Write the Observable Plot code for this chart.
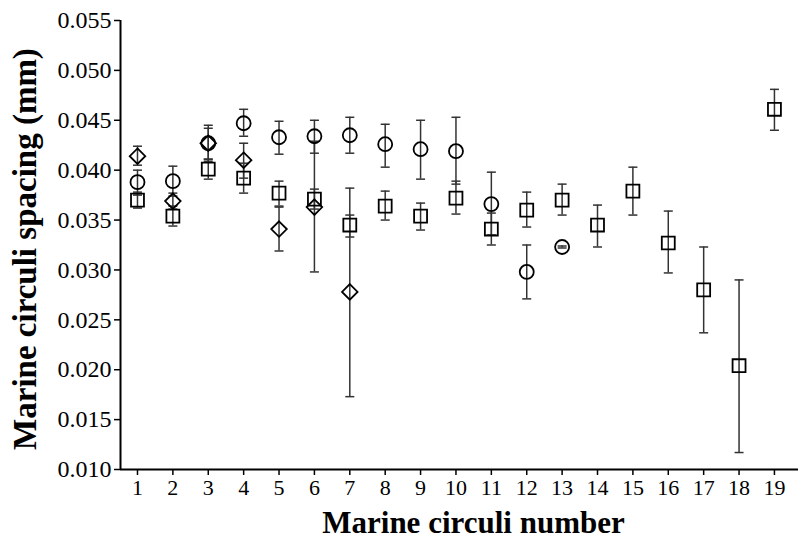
<!DOCTYPE html>
<html><head><meta charset="utf-8">
<script src="https://cdn.jsdelivr.net/npm/d3@7"></script>
<script src="https://cdn.jsdelivr.net/npm/@observablehq/plot@0.6"></script>
<style>body{margin:0;background:#fff} svg text{font-family:'Liberation Serif',serif}</style>
</head><body><div id="chart"></div>
<script>
// Circle series (circuli 1-13)
const circleX    = [1, 2, 3, 4, 5, 6, 7, 8, 9, 10, 11, 12, 13];
const circleMean = [0.0388, 0.0389, 0.0427, 0.0447, 0.0433, 0.0434, 0.0435, 0.0426, 0.0421, 0.0419, 0.0366, 0.0298, 0.0323];
const circleLo   = [0.0375, 0.0374, 0.0411, 0.0434, 0.0416, 0.0417, 0.0417, 0.0403, 0.0391, 0.0386, 0.0335, 0.0271, 0.0322];
const circleHi   = [0.0400, 0.0404, 0.0442, 0.0461, 0.0449, 0.0450, 0.0453, 0.0446, 0.0450, 0.0453, 0.0398, 0.0325, 0.0324];
// Diamond series (circuli 1-7)
const diamondX    = [1, 2, 3, 4, 5, 6, 7];
const diamondMean = [0.0414, 0.0369, 0.0427, 0.0410, 0.0341, 0.0363, 0.0278];
const diamondLo   = [0.0405, 0.0361, 0.0409, 0.0392, 0.0319, 0.0298, 0.0173];
const diamondHi   = [0.0424, 0.0377, 0.0445, 0.0427, 0.0363, 0.0429, 0.0382];
// Square series (circuli 1-19)
const squareX    = [1, 2, 3, 4, 5, 6, 7, 8, 9, 10, 11, 12, 13, 14, 15, 16, 17, 18, 19];
const squareMean = [0.0370, 0.0354, 0.0401, 0.0392, 0.0377, 0.0371, 0.0345, 0.0364, 0.0354, 0.0372, 0.0341, 0.0360, 0.0370, 0.0345, 0.0379, 0.0327, 0.0280, 0.0204, 0.0461];
const squareLo   = [0.0362, 0.0344, 0.0391, 0.0377, 0.0364, 0.0361, 0.0333, 0.0350, 0.0340, 0.0356, 0.0325, 0.0343, 0.0355, 0.0323, 0.0355, 0.0297, 0.0237, 0.0117, 0.0440];
const squareHi   = [0.0378, 0.0364, 0.0411, 0.0407, 0.0389, 0.0381, 0.0355, 0.0379, 0.0367, 0.0389, 0.0357, 0.0378, 0.0386, 0.0365, 0.0403, 0.0359, 0.0323, 0.0290, 0.0481];

const xTicks = [1, 2, 3, 4, 5, 6, 7, 8, 9, 10, 11, 12, 13, 14, 15, 16, 17, 18, 19];
const yTicks = [0.010, 0.015, 0.020, 0.025, 0.030, 0.035, 0.040, 0.045, 0.050, 0.055];
const xTitle = "Marine circuli number";
const yTitle = "Marine circuli spacing (mm)";

function build(series, xs, m, lo, hi) {
  return xs.map((x, i) => ({series, x, mean: m[i], lo: lo[i], hi: hi[i]}));
}
const rows = [
  ...build("circle", circleX, circleMean, circleLo, circleHi),
  ...build("diamond2", diamondX, diamondMean, diamondLo, diamondHi),
  ...build("square", squareX, squareMean, squareLo, squareHi)
];

const cap = {draw(ctx) { ctx.moveTo(-4.5, 0); ctx.lineTo(4.5, 0); }};
const xDomain = [0.52, 19.68];
const yDomain = [0.010, 0.055];
const errColor = "#333";
const serif = "'Liberation Serif', serif";

const chart = Plot.plot({
  width: 798, height: 545,
  marginLeft: 120, marginRight: 0, marginTop: 20, marginBottom: 76,
  x: {domain: xDomain},
  y: {domain: yDomain},
  style: {fontFamily: serif, color: "black", background: "white"},
  marks: [
    Plot.axisY({ticks: yTicks, tickFormat: d3.format(".3f"), tickSize: 6, tickPadding: 3, strokeWidth: 1.5, fontSize: 24, fontFamily: serif, fontVariant: "normal", label: null}),
    Plot.axisX({ticks: xTicks, tickFormat: d => d, tickSize: 6, tickPadding: 4, strokeWidth: 1.5, fontSize: 22, fontFamily: serif, fontVariant: "normal", label: null}),
    Plot.ruleX([xDomain[0]], {stroke: "black", strokeWidth: 2}),
    Plot.ruleY([yDomain[0]], {stroke: "black", strokeWidth: 2}),
    Plot.ruleX(rows, {x: "x", y1: "lo", y2: "hi", stroke: errColor, strokeWidth: 1.5}),
    Plot.dot(rows, {x: "x", y: "lo", symbol: cap, stroke: errColor, strokeWidth: 1.5}),
    Plot.dot(rows, {x: "x", y: "hi", symbol: cap, stroke: errColor, strokeWidth: 1.5}),
    Plot.dot(rows.filter(d => d.series === "circle"), {x: "x", y: "mean", symbol: "circle", r: 7, stroke: "black", strokeWidth: 1.8, fill: "none"}),
    Plot.dot(rows.filter(d => d.series === "square"), {x: "x", y: "mean", symbol: "square", r: 7.3, stroke: "black", strokeWidth: 1.8, fill: "none"}),
    Plot.dot(rows.filter(d => d.series === "diamond2"), {x: "x", y: "mean", symbol: "diamond2", r: 7, stroke: "black", strokeWidth: 1.8, fill: "none"}),
    Plot.text([xTitle], {frameAnchor: "bottom", dy: 63, dx: 14, text: d => d, fontSize: 31, fontWeight: "bold", fontFamily: serif, lineAnchor: "bottom", textAnchor: "middle"}),
    Plot.text([yTitle], {frameAnchor: "left", dx: -95, dy: 4, rotate: -90, text: d => d, fontSize: 33, fontWeight: "bold", fontFamily: serif, textAnchor: "middle"})
  ]
});
document.getElementById("chart").appendChild(chart);
</script>
</body></html>
